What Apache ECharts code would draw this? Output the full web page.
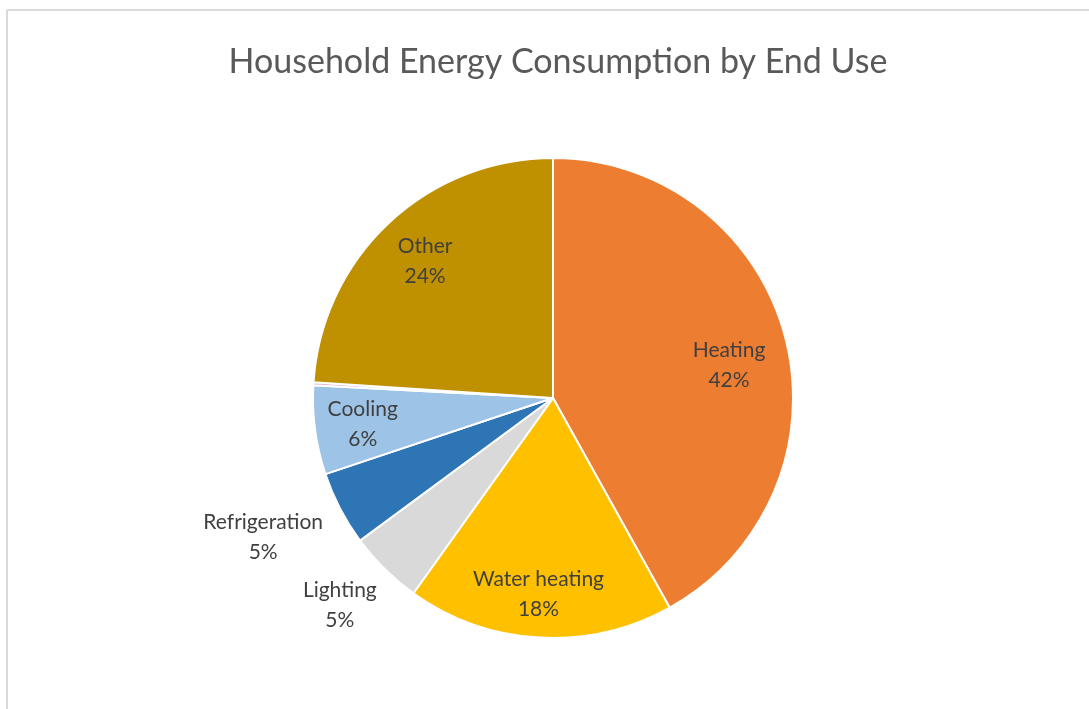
<!DOCTYPE html>
<html><head><meta charset="utf-8">
<script src="https://cdn.jsdelivr.net/npm/echarts@6/dist/echarts.min.js"></script>
<style>html,body{margin:0;padding:0;background:#fff}#c{width:1089px;height:709px}</style>
</head><body><div id="c"></div>
<script>
var categories = ['Heating', 'Water heating', 'Lighting', 'Refrigeration', 'Cooling', '', 'Other'];
var values = [42, 18, 5, 5, 6, 0.2, 24];
var labelText = ['42%', '18%', '5%', '5%', '6%', '', '24%'];
var colors = ['#ED7D31', '#FFC000', '#D9D9D9', '#2E75B6', '#9DC3E6', '#E3A6D8', '#BF9000'];
var labelRadius = [0.746, 0.82, 1.24, 1.34, 0.80, 0, 0.78];
var labelAngleShift = [4, 1, 1.2, 1.8, 0, 0, 0];

var CX = 553, CY = 398, R = 240;
var total = values.reduce(function(a, b){ return a + b; }, 0);
var mids = [];
(function(){ var acc = 0; for (var i = 0; i < values.length; i++) { mids.push((acc + values[i] / 2) / total * 2 * Math.PI); acc += values[i]; } })();

var chart = echarts.init(document.getElementById('c'));
chart.setOption({
  backgroundColor: '#fff',
  animation: false,
  title: {
    text: 'Household Energy Consumption by End Use',
    left: CX, top: 40, textAlign: 'center',
    textStyle: { fontFamily: 'Lato', fontSize: 34, fontWeight: 'normal', color: '#595959' }
  },
  graphic: [
    { type: 'line', shape: { x1: 7, y1: 10, x2: 1089, y2: 10 }, style: { stroke: '#d9d9d9', lineWidth: 2 } },
    { type: 'line', shape: { x1: 7, y1: 10, x2: 7, y2: 709 }, style: { stroke: '#d9d9d9', lineWidth: 2 } }
  ],
  series: [{
    type: 'pie',
    center: [CX, CY],
    radius: [0, R],
    startAngle: 90,
    clockwise: true,
    avoidLabelOverlap: false,
    itemStyle: { borderColor: '#fff', borderWidth: 2 },
    label: {
      show: true,
      position: 'inside',
      fontFamily: 'Lato', fontSize: 21, color: '#404040', lineHeight: 30,
      formatter: function(p){ return p.name ? p.name + '\n' + labelText[p.dataIndex] : ''; }
    },
    labelLine: { show: false },
    labelLayout: function(p){
      var i = p.dataIndex, a = mids[i] + labelAngleShift[i] * Math.PI / 180, r = R * labelRadius[i];
      return { x: CX + r * Math.sin(a), y: CY - r * Math.cos(a), align: 'center', verticalAlign: 'middle' };
    },
    data: categories.map(function(n, i){ return { name: n, value: values[i], itemStyle: { color: colors[i] } }; })
  }]
});
</script></body></html>
